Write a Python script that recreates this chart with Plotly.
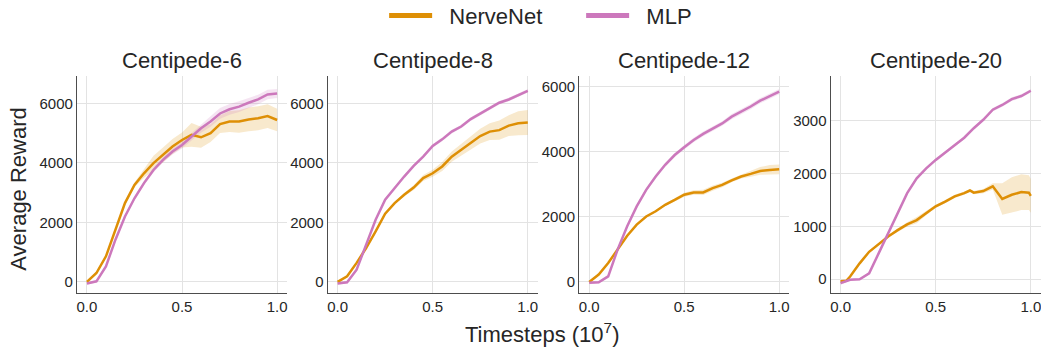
import plotly.graph_objects as go

# ---------------- data ----------------
X = [0.0, 0.05, 0.1, 0.15, 0.2, 0.25, 0.3, 0.35, 0.4, 0.45, 0.5,
     0.55, 0.6, 0.65, 0.7, 0.75, 0.8, 0.85, 0.9, 0.95, 1.0]

titles = ["Centipede-6", "Centipede-8", "Centipede-12", "Centipede-20"]

# Centipede-6
c6_nerve = [0, 300, 860, 1750, 2650, 3260, 3650, 3990, 4270, 4550, 4770,
            4940, 4860, 5000, 5300, 5390, 5390, 5460, 5500, 5570, 5440]
c6_nerve_sd = [30, 40, 50, 50, 60, 80, 150, 250, 250, 250, 250,
               400, 350, 300, 300, 350, 380, 400, 400, 400, 380]
c6_mlp = [-50, 20, 520, 1420, 2200, 2810, 3320, 3760, 4100, 4380, 4600,
          4880, 5160, 5390, 5660, 5800, 5890, 6020, 6130, 6300, 6330]
c6_mlp_sd = [40, 40, 60, 60, 60, 60, 70, 80, 90, 100, 120,
             130, 150, 180, 180, 180, 180, 170, 160, 160, 150]

# Centipede-8
c8_nerve = [0, 190, 640, 1140, 1700, 2290, 2650, 2930, 3170, 3490, 3650,
            3880, 4210, 4430, 4660, 4900, 5050, 5100, 5250, 5330, 5360]
c8_nerve_sd = [30, 30, 30, 30, 30, 30, 30, 60, 80, 100, 120,
               150, 170, 200, 220, 250, 280, 320, 350, 400, 420]
c8_mlp = [-50, -10, 410, 1250, 2090, 2760, 3170, 3540, 3900, 4210, 4570,
          4790, 5050, 5220, 5470, 5660, 5830, 6020, 6130, 6280, 6420]
c8_mlp_sd = [40, 40, 50, 50, 50, 50, 50, 50, 50, 50, 60,
             60, 60, 60, 60, 60, 60, 60, 60, 60, 60]

# Centipede-12
c12_nerve = [0, 225, 580, 990, 1420, 1760, 2010, 2170, 2370, 2520, 2680,
             2750, 2750, 2880, 2980, 3120, 3240, 3320, 3410, 3440, 3460]
c12_nerve_sd = [30, 30, 30, 30, 30, 30, 30, 30, 40, 50, 60,
                70, 80, 80, 70, 60, 60, 90, 120, 150, 150]
c12_mlp = [-30, -10, 170, 1000, 1710, 2320, 2830, 3240, 3600, 3900, 4140,
           4360, 4550, 4720, 4870, 5080, 5230, 5390, 5570, 5710, 5850]
c12_mlp_sd = [40, 40, 50, 60, 60, 60, 60, 60, 60, 60, 70,
              70, 70, 70, 70, 80, 80, 80, 80, 80, 80]

# Centipede-20 (NerveNet sampled on its own grid to keep the late kinks)
X20N = [0.0, 0.03, 0.05, 0.1, 0.15, 0.2, 0.25, 0.3, 0.35, 0.4, 0.45, 0.5,
        0.55, 0.6, 0.65, 0.68, 0.7, 0.75, 0.8, 0.85, 0.9, 0.95, 0.99, 1.0]
c20_nerve = [-40, -30, 50, 300, 520, 670, 810, 930, 1040, 1120, 1250, 1380,
             1470, 1570, 1630, 1680, 1640, 1670, 1760, 1520, 1600, 1650, 1640, 1580]
c20_nerve_sd = [20, 20, 20, 20, 20, 20, 20, 30, 40, 60, 40, 30,
                30, 30, 30, 30, 30, 40, 60, 300, 330, 340, 330, 320]
c20_mlp = [-75, -10, 0, 110, 490, 870, 1280, 1630, 1910, 2100, 2260,
           2400, 2550, 2680, 2860, 3020, 3210, 3300, 3410, 3470, 3570]
c20_mlp_sd = [30, 20, 20, 20, 25, 25, 25, 25, 25, 25, 30,
              30, 30, 30, 30, 30, 35, 35, 35, 35, 35]

panels = [
    (X, c6_nerve, c6_nerve_sd, X, c6_mlp, c6_mlp_sd),
    (X, c8_nerve, c8_nerve_sd, X, c8_mlp, c8_mlp_sd),
    (X, c12_nerve, c12_nerve_sd, X, c12_mlp, c12_mlp_sd),
    (X20N, c20_nerve, c20_nerve_sd, X, c20_mlp, c20_mlp_sd),
]

y_ranges = [[-370, 6920], [-370, 6920], [-340, 6330], [-260, 3850]]
y_ticks = [[0, 2000, 4000, 6000], [0, 2000, 4000, 6000],
           [0, 2000, 4000, 6000], [0, 1000, 2000, 3000]]

# ---------------- style ----------------
ORANGE = "rgb(222,143,5)"
PINK = "rgb(204,120,188)"
ORANGE_FILL = "rgba(222,143,5,0.2)"
PINK_FILL = "rgba(204,120,188,0.2)"
FONT = "Liberation Sans, Arial, sans-serif"
TXT = "#262626"
NB = "\u00a0"

x_domains = [[0.074, 0.2757], [0.3148, 0.5165], [0.5565, 0.758], [0.798, 0.9997]]
y_domain = [0.163, 0.783]

fig = go.Figure()


def band(xs, ys, sd, fillcolor, xa, ya):
    up = [y + s for y, s in zip(ys, sd)]
    lo = [y - s for y, s in zip(ys, sd)]
    return go.Scatter(x=list(xs) + list(xs)[::-1], y=up + lo[::-1], fill="toself",
                      fillcolor=fillcolor, line=dict(width=0), mode="lines",
                      hoverinfo="skip", showlegend=False, xaxis=xa, yaxis=ya)


for i, (xn, yn, sn, xm, ym, sm) in enumerate(panels):
    k = "" if i == 0 else str(i + 1)
    xa, ya = "x" + k, "y" + k
    fig.add_trace(band(xn, yn, sn, ORANGE_FILL, xa, ya))
    fig.add_trace(band(xm, ym, sm, PINK_FILL, xa, ya))
    fig.add_trace(go.Scatter(x=xn, y=yn, mode="lines", line=dict(color=ORANGE, width=2.5),
                             showlegend=False, xaxis=xa, yaxis=ya, name="NerveNet"))
    fig.add_trace(go.Scatter(x=xm, y=ym, mode="lines", line=dict(color=PINK, width=2.5),
                             showlegend=False, xaxis=xa, yaxis=ya, name="MLP"))
    axis_common = dict(showline=True, linecolor="#4d4d4d", linewidth=1.3,
                       showgrid=True, gridcolor="#e3e3e3", gridwidth=1,
                       zeroline=False, ticks="", automargin=False,
                       ticklabeloverflow="allow",
                       tickfont=dict(size=15, color=TXT, family=FONT))
    fig.layout["xaxis" + k] = dict(domain=x_domains[i], anchor=ya, range=[-0.052, 1.052],
                                   tickvals=[0, 0.5, 1.0], ticktext=["0.0", "0.5", "1.0"],
                                   **axis_common)
    fig.layout["yaxis" + k] = dict(domain=y_domain, anchor=xa, range=y_ranges[i],
                                   tickvals=y_ticks[i], ticksuffix=" ", **axis_common)
    cx = (x_domains[i][0] + x_domains[i][1]) / 2
    fig.add_annotation(text=titles[i], x=cx, y=0.826, xref="paper", yref="paper",
                       xanchor="center", yanchor="middle", showarrow=False,
                       font=dict(size=22, color=TXT, family=FONT))

# legend entries
fig.add_trace(go.Scatter(x=[None], y=[None], mode="lines", name=NB * 2 + "NerveNet",
                         line=dict(color=ORANGE, width=5)))
fig.add_trace(go.Scatter(x=[None], y=[None], mode="lines", name=NB * 2 + "MLP",
                         line=dict(color=PINK, width=5)))

fig.add_annotation(text="Average Reward", x=0.017, y=0.46, xref="paper", yref="paper",
                   textangle=-90, showarrow=False, xanchor="center", yanchor="middle",
                   font=dict(size=22, color=TXT, family=FONT))
fig.add_annotation(text="Timesteps (10<sup>7</sup>)", x=0.521, y=0.0, xref="paper", yref="paper",
                   showarrow=False, xanchor="center", yanchor="bottom", yshift=1,
                   font=dict(size=22, color=TXT, family=FONT))

fig.update_layout(
    width=1041, height=350, margin=dict(l=0, r=0, t=0, b=0, autoexpand=False),
    paper_bgcolor="white", plot_bgcolor="white",
    font=dict(family=FONT, color=TXT),
    legend=dict(orientation="h", x=0.369, xanchor="left", y=1.015, yanchor="top",
                font=dict(size=22, color=TXT, family=FONT),
                entrywidth=139, entrywidthmode="pixels", itemwidth=43,
                bgcolor="rgba(0,0,0,0)"),
    showlegend=True,
)

fig.write_html("out.html", config={"displayModeBar": False},
               post_script="document.body.style.margin='0';")
